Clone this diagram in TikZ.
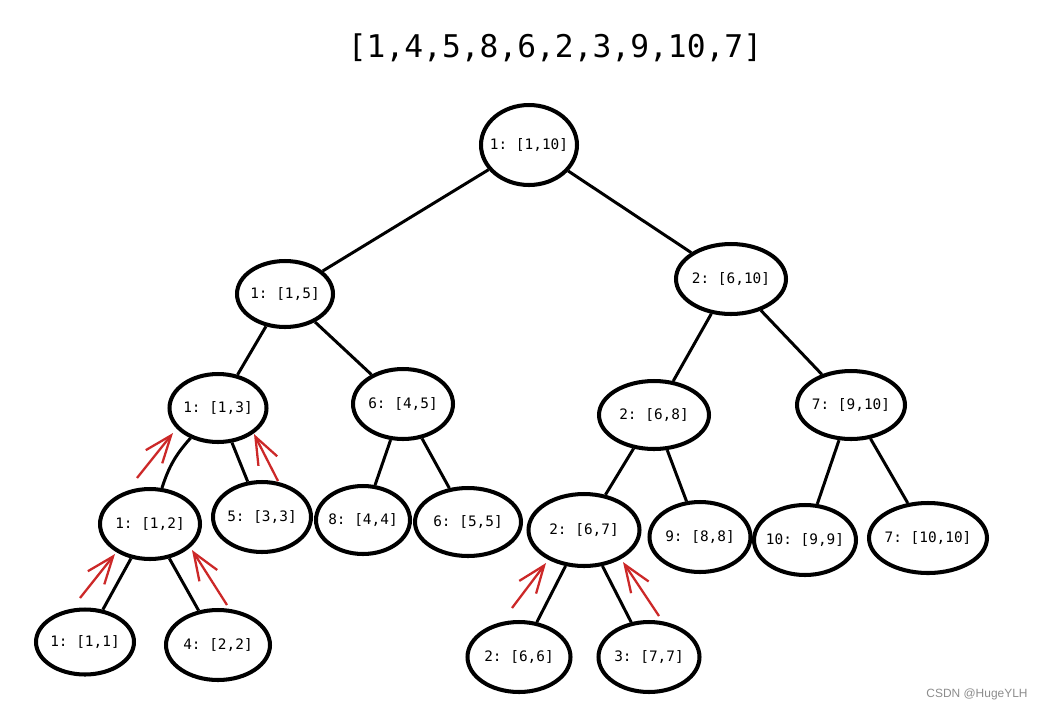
\documentclass[tikz,border=0pt]{standalone}
\usepackage{fontspec}
\setmonofont{DejaVu Sans Mono}
\setsansfont{Liberation Sans}
\usetikzlibrary{shapes.geometric,arrows.meta}
\definecolor{arrred}{RGB}{204,40,40}
\begin{document}
\begin{tikzpicture}[x=0.02cm,y=-0.02cm,
  nd/.style={ellipse,draw=black,line width=2.3pt,inner sep=0pt,
    label={[font=\ttfamily\fontsize{8.2}{10}\selectfont,inner sep=0pt]center:#1}},
  edge/.style={line width=1.7pt,black},
  redarr/.style={draw=arrred,line width=1.3pt,-{Straight Barb[length=15.5pt,width=12pt,line width=1.3pt]}}
]
\useasboundingbox (0,0) rectangle (1042,711);
\node[font=\ttfamily\fontsize{17.8}{20}\selectfont] (title) at (555,48) {[1,4,5,8,6,2,3,9,10,7]};
\node[font=\sffamily\fontsize{6.8}{8}\selectfont,text=black!45] (wm) at (977,694) {CSDN @HugeYLH};

\node[nd={1: [1,10]},minimum width=1.92cm,minimum height=1.6cm] (r) at (529,145) {};
\node[nd={1: [1,5]},minimum width=1.92cm,minimum height=1.32cm] (a) at (285,294) {};
\node[nd={2: [6,10]},minimum width=2.2cm,minimum height=1.4cm] (b) at (731,279) {};
\node[nd={1: [1,3]},minimum width=1.94cm,minimum height=1.36cm] (c) at (218,408) {};
\node[nd={6: [4,5]},minimum width=2.0cm,minimum height=1.4cm] (d) at (403,404) {};
\node[nd={2: [6,8]},minimum width=2.2cm,minimum height=1.36cm] (e) at (654,415) {};
\node[nd={7: [9,10]},minimum width=2.16cm,minimum height=1.36cm] (f) at (851,405) {};
\node[nd={1: [1,2]},minimum width=2.0cm,minimum height=1.4cm] (g) at (150,524) {};
\node[nd={5: [3,3]},minimum width=1.96cm,minimum height=1.4cm] (h) at (262,517) {};
\node[nd={8: [4,4]},minimum width=1.88cm,minimum height=1.36cm] (i) at (363,520) {};
\node[nd={6: [5,5]},minimum width=2.12cm,minimum height=1.36cm] (j) at (468,522) {};
\node[nd={2: [6,7]},minimum width=2.22cm,minimum height=1.44cm] (k) at (584,530) {};
\node[nd={9: [8,8]},minimum width=2.02cm,minimum height=1.4cm] (l) at (700,537) {};
\node[nd={10: [9,9]},minimum width=2.04cm,minimum height=1.4cm] (m) at (805,540) {};
\node[nd={7: [10,10]},minimum width=2.36cm,minimum height=1.4cm] (n) at (928,538) {};
\node[nd={1: [1,1]},minimum width=1.96cm,minimum height=1.3cm] (o) at (85,642) {};
\node[nd={4: [2,2]},minimum width=2.08cm,minimum height=1.4cm] (p) at (218,645) {};
\node[nd={2: [6,6]},minimum width=2.06cm,minimum height=1.4cm] (q) at (519,657) {};
\node[nd={3: [7,7]},minimum width=2.02cm,minimum height=1.4cm] (s) at (649,657) {};

\draw[edge] (r) -- (a);
\draw[edge] (r) -- (b);
\draw[edge] (a) -- (c);
\draw[edge] (a) -- (d);
\draw[edge] (b) -- (e);
\draw[edge] (b) -- (f);
\draw[edge] (c) to[bend right=12] (g);
\draw[edge] (c) -- (h);
\draw[edge] (d) -- (i);
\draw[edge] (d) -- (j);
\draw[edge] (e) -- (k);
\draw[edge] (e) -- (l);
\draw[edge] (f) -- (m);
\draw[edge] (f) -- (n);
\draw[edge] (g) -- (o);
\draw[edge] (g) -- (p);
\draw[edge] (k) -- (q);
\draw[edge] (k) -- (s);

\coordinate (t1) at (80,598);  \coordinate (h1) at (115,554);
\coordinate (t2) at (227,605); \coordinate (h2) at (192,550);
\coordinate (t3) at (137,478); \coordinate (h3) at (173,433);
\coordinate (t4) at (278,481); \coordinate (h4) at (254,434);
\coordinate (t5) at (512,608); \coordinate (h5) at (546,563);
\coordinate (t6) at (659,616); \coordinate (h6) at (623,562);
\draw[redarr] (t1) -- (h1);
\draw[redarr] (t2) -- (h2);
\draw[redarr] (t3) -- (h3);
\draw[redarr] (t4) -- (h4);
\draw[redarr] (t5) -- (h5);
\draw[redarr] (t6) -- (h6);
\end{tikzpicture}
\end{document}
